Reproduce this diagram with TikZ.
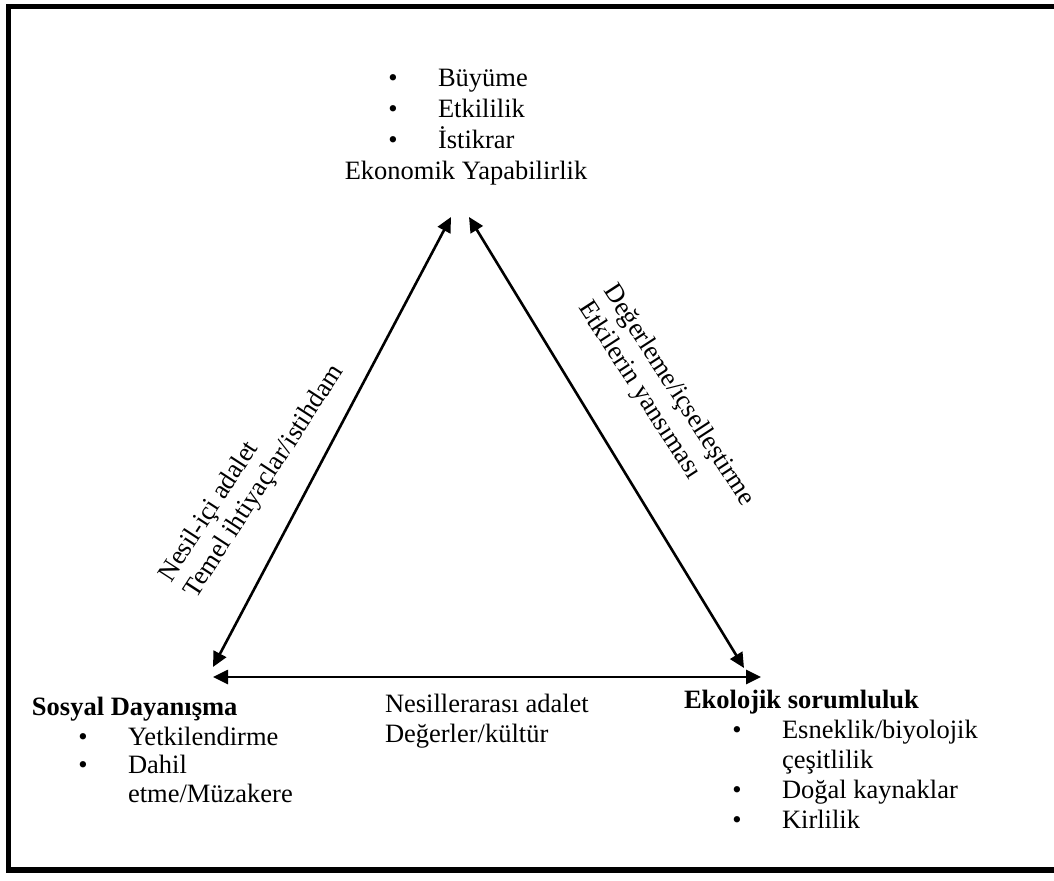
\documentclass[tikz,border=0pt]{standalone}
\usepackage{fontspec}
\setmainfont{Liberation Serif}
\usetikzlibrary{arrows.meta}
\begin{document}
\begin{tikzpicture}[x=0.5pt,y=-0.5pt,
  txt/.style={inner sep=0pt, outer sep=0pt, font=\fontsize{13.25}{15}\selectfont},
  head/.style={txt, font=\fontsize{13.25}{15}\selectfont\bfseries},
  dot/.style={txt, anchor=base},
  item/.style={txt, anchor=base west},
  link/.style={line width=1.3pt,
    {Triangle[length=7.5pt,width=7pt]}-{Triangle[length=7.5pt,width=7pt]}},
  frame/.style={line width=2.6pt}]
\useasboundingbox (0,0) rectangle (1054,881);
% outer frame
\begin{scope}
  \clip (0,0) rectangle (1054,881);
  \draw[frame] (8.5,6.5) rectangle (1058,870);
\end{scope}

% arrow end points at the three corners
\coordinate (apexL) at (451,217);
\coordinate (apexR) at (469,217);
\coordinate (socA) at (213,667);
\coordinate (socB) at (213,677);
\coordinate (ecoA) at (744,668);
\coordinate (ecoB) at (761,677);

\draw[link] (socA) -- (apexL);
\draw[link] (apexR) -- (ecoA);
\draw[link] (socB) -- (ecoB);

% economic corner
\node[dot] (eb1) at (393,87) {•};
\node[item] (et1) at (438,87) {Büyüme};
\node[dot] (eb2) at (393,118) {•};
\node[item] (et2) at (438,118) {Etkililik};
\node[dot] (eb3) at (393,149) {•};
\node[item] (et3) at (438,149) {İstikrar};
\node[txt, anchor=base] (econ) at (466,180) {Ekonomik Yapabilirlik};

% social corner
\node[head, anchor=base west] (soc) at (32,715) {Sosyal Dayanışma};
\node[dot] (sb1) at (83,745) {•};
\node[item] (st1) at (128,745) {Yetkilendirme};
\node[dot] (sb2) at (83,773) {•};
\node[item] (st2) at (128,773) {Dahil};
\node[item] (st3) at (128,802) {etme/Müzakere};

% ecological corner
\node[head, anchor=base west] (eco) at (684,708) {Ekolojik sorumluluk};
\node[dot] (kb1) at (737,738) {•};
\node[item] (kt1) at (782,738) {Esneklik/biyolojik};
\node[item] (kt2) at (782,768) {çeşitlilik};
\node[dot] (kb2) at (737,798) {•};
\node[item] (kt3) at (782,798) {Doğal kaynaklar};
\node[dot] (kb3) at (737,828) {•};
\node[item] (kt4) at (782,828) {Kirlilik};

% edge labels
\node[item] (bot1) at (385,712) {Nesillerarası adalet};
\node[item] (bot2) at (385,742) {Değerler/kültür};

\node[item, rotate=57] (lft1) at (171,583) {Nesil-içi adalet};
\node[item, rotate=57] (lft2) at (196,599) {Temel ihtiyaçlar/istihdam};

\node[item, rotate=-57] (rgt1) at (603,291) {Değerleme/içselleştirme};
\node[item, rotate=-57] (rgt2) at (578,308) {Etkilerin yansıması};
\end{tikzpicture}
\end{document}
